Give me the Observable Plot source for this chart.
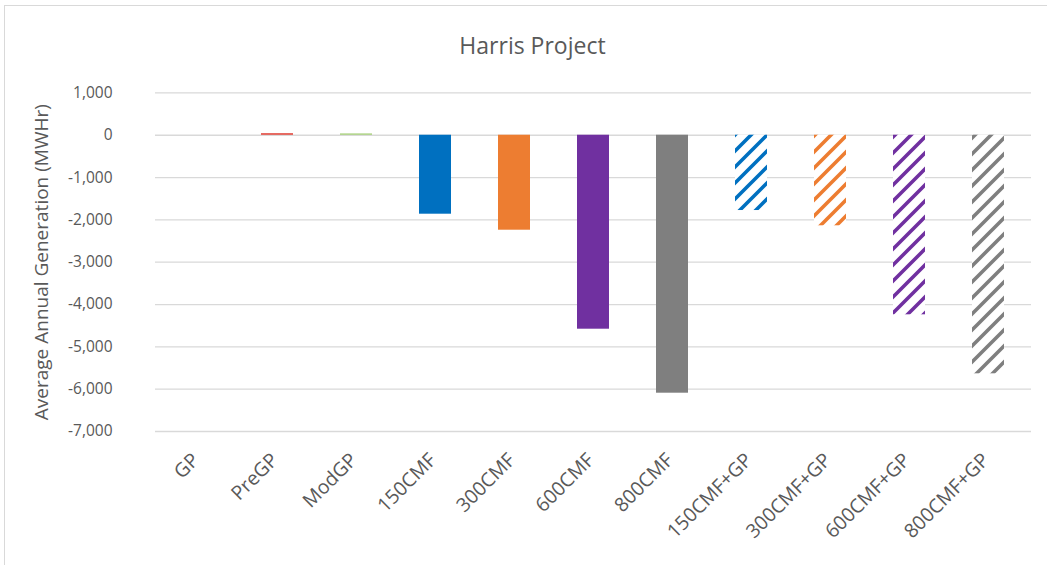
<!DOCTYPE html>
<html>
<head>
<meta charset="utf-8">
<script src="https://cdn.jsdelivr.net/npm/d3@7"></script>
<script src="https://cdn.jsdelivr.net/npm/@observablehq/plot@0.6"></script>
<style>
  html, body { margin: 0; padding: 0; background: #fff; overflow: hidden; }
  body { width: 1047px; height: 565px; position: relative; font-family: "Segoe UI", "Open Sans", "Noto Sans", sans-serif; }
  #border { position: absolute; left: 4px; top: 5px; width: 1100px; height: 620px; border-left: 1.5px solid #d9d9d9; border-top: 1.5px solid #d9d9d9; box-sizing: border-box; }
  #title { position: absolute; left: 0; top: 0; width: 1065px; height: 70px; line-height: 90px; text-align: center; font-size: 23px; color: #595959; }
  #chart { position: absolute; left: 0; top: 70px; }
</style>
</head>
<body>
<div id="border"></div>
<div id="title">Harris Project</div>
<svg width="0" height="0" style="position:absolute">
  <defs id="defs"></defs>
</svg>
<div id="chart"></div>
<script>
const categories = ["GP", "PreGP", "ModGP", "150CMF", "300CMF", "600CMF", "800CMF", "150CMF+GP", "300CMF+GP", "600CMF+GP", "800CMF+GP"];
const values = [0, 35, 30, -1866, -2244, -4583, -6095, -1779, -2140, -4243, -5637];
const barColors = ["#4472C4", "#E03C31", "#A0CC70", "#0070C0", "#ED7D31", "#7030A0", "#7F7F7F", "#0070C0", "#ED7D31", "#7030A0", "#7F7F7F"];
const hatched = [false, false, false, false, false, false, false, true, true, true, true];
const yTicks = [1000, 0, -1000, -2000, -3000, -4000, -5000, -6000, -7000];

// hatch patterns
const defs = d3.select("#defs");
const hatchIds = {};
barColors.forEach((c, i) => {
  if (!hatched[i] || hatchIds[c]) return;
  const id = "hatch" + i;
  hatchIds[c] = id;
  const p = defs.append("pattern").attr("id", id).attr("patternUnits", "userSpaceOnUse")
    .attr("width", 16).attr("height", 16);
  p.append("rect").attr("width", 16).attr("height", 16).attr("fill", "#fff");
  p.append("path").attr("d", "M-4,4L4,-4M0,16L16,0M12,20L20,12")
    .attr("stroke", c).attr("stroke-width", 3.6).attr("stroke-linecap", "square");
});

const table = categories.map((c, i) => ({
  cat: c,
  value: values[i],
  fill: hatched[i] ? `url(#${hatchIds[barColors[i]]})` : barColors[i]
}));

const chart = Plot.plot({
  width: 1047,
  height: 495,
  marginTop: 22.4,
  marginBottom: 134,
  marginLeft: 155,
  marginRight: 16,
  style: { fontFamily: "'Segoe UI', 'Open Sans', 'Noto Sans', sans-serif", fontSize: "15.5px", color: "#595959", background: "transparent" },
  x: { domain: categories, paddingInner: 0.6, paddingOuter: 0.3, label: null, axis: null },
  y: { domain: [-7000, 1000], label: null },
  color: { type: "identity" },
  marks: [
    Plot.ruleY(yTicks, { stroke: "#d9d9d9", strokeWidth: 1.3 }),
    Plot.barY(table, { x: "cat", y: "value", fill: "fill" }),
    Plot.axisY(yTicks, { tickSize: 0, tickPadding: 43, tickFormat: d => d.toLocaleString("en-US"), fontSize: 15.5, fill: "#595959" }),
    Plot.text(categories, { x: d => d, frameAnchor: "bottom", dx: -8, dy: 20, rotate: -45, textAnchor: "end", lineAnchor: "top", fontSize: 19.5, fill: "#595959" }),
    Plot.text(["Average Annual Generation (MWHr)"], { frameAnchor: "left", dx: -114, rotate: -90, textAnchor: "middle", fontSize: 19, fill: "#595959" })
  ]
});
document.getElementById("chart").appendChild(chart);
</script>
</body>
</html>
